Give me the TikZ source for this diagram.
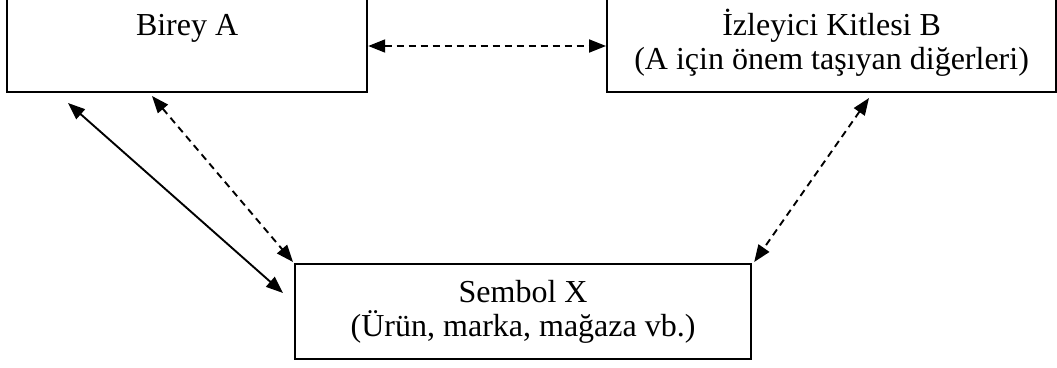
\documentclass[tikz,border=0pt]{standalone}
\usepackage{fontspec}
\setmainfont{Liberation Serif}
\usetikzlibrary{arrows.meta,calc}
\tikzset{
  boxnode/.style={draw, line width=2.2pt, inner sep=0pt, align=center, font=\fontsize{32}{34}\selectfont},
  link/.style={line width=1.9pt, {Triangle[length=17pt,width=13pt]}-{Triangle[length=17pt,width=13pt]}},
  dlink/.style={link, dash pattern=on 7pt off 5pt}
}
\begin{document}
\begin{tikzpicture}[x=1pt,y=-1pt]
\useasboundingbox (0,0) rectangle (1057,367);
\clip (0,0) rectangle (1057,367);
\node[boxnode, anchor=south west, minimum width=360pt, minimum height=128pt] (A) at (6,93) {Birey A};
\node[boxnode, anchor=south west, minimum width=449pt, minimum height=98pt] (B) at (606,93) {İzleyici Kitlesi B\\(A için önem taşıyan diğerleri)};
\node[boxnode, anchor=north west, minimum width=456pt, minimum height=95pt] (X) at (294,263) {Sembol X\\(Ürün, marka, mağaza vb.)};
\draw[dlink] ($(A.south east)+(0,-47)$) -- ($(B.south west)+(0,-47)$);
\draw[link] ($(A.south west)+(62,10)$) -- ($(X.north west)+(-11,30)$);
\draw[dlink] ($(A.south west)+(146,3)$) -- ($(X.north west)+(-1,-1)$);
\draw[dlink] ($(B.south west)+(263,5)$) -- ($(X.north east)+(2,-1)$);
\end{tikzpicture}
\end{document}
